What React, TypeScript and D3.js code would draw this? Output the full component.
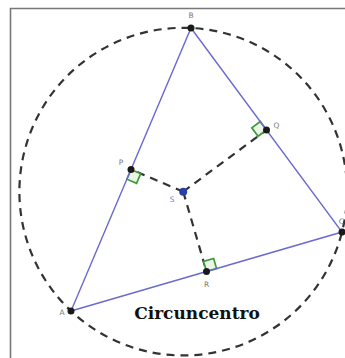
import React from "react";
import * as d3 from "d3";

// Triangle vertices in geometry units
const vertexLabels = ["A", "B", "C"];
const vertexX = [0, 3.0, 6.775];
const vertexY = [0, 7.075, 1.975];
const titleText = "Circuncentro";

const W = 345;
const H = 358;

type Pt = { x: number; y: number };

function circumcenter(a: Pt, b: Pt, c: Pt): Pt {
  const d = 2 * (a.x * (b.y - c.y) + b.x * (c.y - a.y) + c.x * (a.y - b.y));
  const a2 = a.x * a.x + a.y * a.y;
  const b2 = b.x * b.x + b.y * b.y;
  const c2 = c.x * c.x + c.y * c.y;
  return {
    x: (a2 * (b.y - c.y) + b2 * (c.y - a.y) + c2 * (a.y - b.y)) / d,
    y: (a2 * (c.x - b.x) + b2 * (a.x - c.x) + c2 * (b.x - a.x)) / d,
  };
}

export default function App() {
  const sx = d3.scaleLinear().domain([0, 1]).range([71, 111]);
  const sy = d3.scaleLinear().domain([0, 1]).range([311, 271]);

  const V: Pt[] = vertexX.map((x, i) => ({ x, y: vertexY[i] }));
  const [A, B, C] = V;
  const S = circumcenter(A, B, C);
  const r = Math.hypot(A.x - S.x, A.y - S.y);
  const mid = (p: Pt, q: Pt): Pt => ({ x: (p.x + q.x) / 2, y: (p.y + q.y) / 2 });
  const P = mid(A, B);
  const Q = mid(B, C);
  const R = mid(C, A);

  const px = (p: Pt) => [sx(p.x), sy(p.y)] as [number, number];
  const [Sx, Sy] = px(S);
  const rPx = sx(r) - sx(0);

  const blue = "#6a6ad2";
  const dash = "#333";

  // right angle markers: at midpoint M, along towards vertex T, other side toward S
  const marker = (M: Pt, T: Pt, key: string) => {
    const [mx, my] = px(M);
    const [tx, ty] = px(T);
    const size = 10.5;
    let ux = tx - mx, uy = ty - my;
    const ul = Math.hypot(ux, uy);
    ux = (ux / ul) * size; uy = (uy / ul) * size;
    let vx = Sx - mx, vy = Sy - my;
    const vl = Math.hypot(vx, vy);
    vx = (vx / vl) * size; vy = (vy / vl) * size;
    const d = `M${mx},${my}L${mx + ux},${my + uy}L${mx + ux + vx},${my + uy + vy}L${mx + vx},${my + vy}Z`;
    return <path key={key} d={d} fill="#eaf5e6" stroke="#3c9a3c" strokeWidth={1.7} />;
  };

  const line = d3.line<Pt>().x((d) => sx(d.x)).y((d) => sy(d.y));

  const lbl = (text: string, x: number, y: number, color = "#777", anchor = "middle") => (
    <text key={text} x={x} y={y} fontSize={7.5} fill={color} fontFamily="DejaVu Sans, sans-serif" textAnchor={anchor}>
      {text}
    </text>
  );

  const [Ax, Ay] = px(A);
  const [Bx, By] = px(B);
  const [Cx, Cy] = px(C);
  const [Px, Py] = px(P);
  const [Qx, Qy] = px(Q);
  const [Rx, Ry] = px(R);

  return (
    <svg width={W} height={H} style={{ position: "absolute", left: 0, top: 0, background: "#fff" }}>
      <path d={`M10.5,${H}V8.5H${W}`} fill="none" stroke="#777" strokeWidth={1.6} />
      <circle cx={Sx} cy={Sy} r={rPx} fill="none" stroke={dash} strokeWidth={2.2} strokeDasharray="8 6" />
      {[P, Q, R].map((M, i) => (
        <path key={"b" + i} d={line([S, M]) || ""} fill="none" stroke={dash} strokeWidth={2.2} strokeDasharray="8 6" />
      ))}
      {marker(P, A, "mP")}
      {marker(Q, B, "mQ")}
      {marker(R, C, "mR")}
      <path d={(line([A, B, C, A]) || "")} fill="none" stroke={blue} strokeWidth={1.4} />
      {[A, B, C, P, Q, R].map((p, i) => {
        const [x, y] = px(p);
        return <circle key={"p" + i} cx={x} cy={y} r={3.5} fill="#1a1a1a" />;
      })}
      <circle cx={Sx} cy={Sy} r={4} fill="#2a3fa8" />
      {lbl(vertexLabels[1], Bx, By - 10)}
      {lbl(vertexLabels[0], Ax - 9, Ay + 4)}
      {lbl(vertexLabels[2], W - 1, Cy - 8, "#777", "end")}
      {lbl("P", Px - 10, Py - 5)}
      {lbl("Q", Qx + 10, Qy - 2)}
      {lbl("R", Rx, Ry + 15)}
      {lbl("S", Sx - 11, Sy + 10, "#7a7acc")}
      <text x={197} y={319} fontSize={17} fontWeight="bold" fontFamily="DejaVu Serif, serif" fill="#111" textAnchor="middle">
        {titleText}
      </text>
    </svg>
  );
}
